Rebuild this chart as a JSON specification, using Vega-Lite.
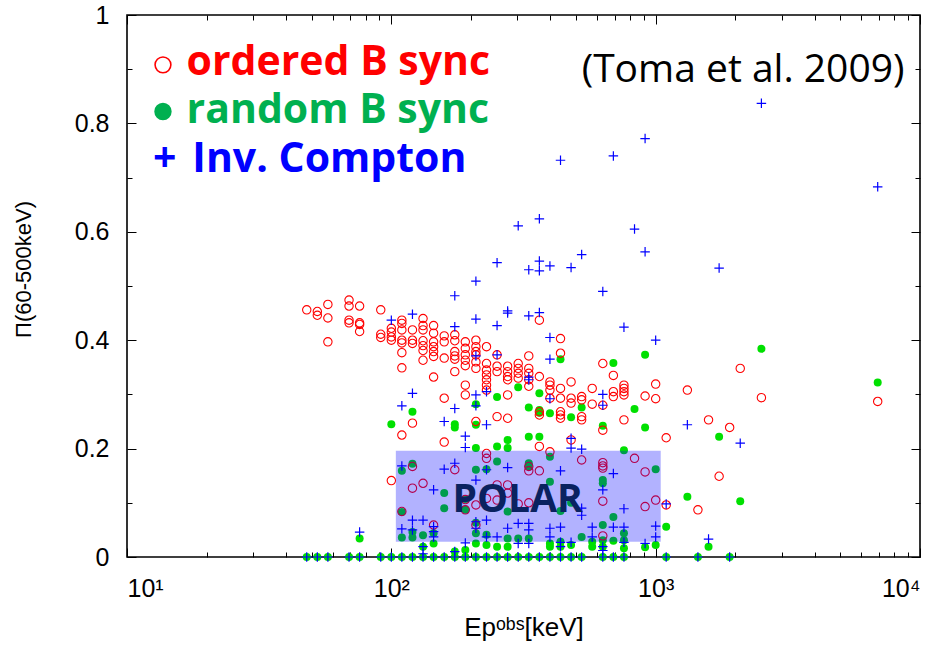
{
 "$schema": "https://vega.github.io/schema/vega-lite/v6.json",
 "width": 793, "height": 542,
 "autosize": {"type": "none"},
 "padding": {"left": 127, "top": 15, "right": 22, "bottom": 91},
 "background": "white",
 "config": {
  "view": {"stroke": "#000", "strokeWidth": 1.6}
 },
 "datasets": {
  "ordered": [
   {"E":47.86,"P":0.456},
   {"E":52.48,"P":0.453},{"E":52.48,"P":0.446},
   {"E":57.54,"P":0.466},{"E":57.54,"P":0.441},{"E":57.54,"P":0.397},
   {"E":69.18,"P":0.474},{"E":69.18,"P":0.463},{"E":69.18,"P":0.437},{"E":69.18,"P":0.432},
   {"E":75.86,"P":0.463},{"E":75.86,"P":0.432},{"E":75.86,"P":0.429},{"E":75.86,"P":0.416},
   {"E":91.2,"P":0.456},{"E":91.2,"P":0.411},{"E":91.2,"P":0.405},
   {"E":100,"P":0.422},{"E":100,"P":0.415},{"E":100,"P":0.406},{"E":100,"P":0.4},{"E":100,"P":0.141},
   {"E":109.6,"P":0.437},{"E":109.6,"P":0.431},{"E":109.6,"P":0.419},{"E":109.6,"P":0.4},{"E":109.6,"P":0.395},{"E":109.6,"P":0.377},{"E":109.6,"P":0.349},{"E":109.6,"P":0.225},{"E":109.6,"P":0.084},
   {"E":120.2,"P":0.419},{"E":120.2,"P":0.4},{"E":120.2,"P":0.394},{"E":120.2,"P":0.247},{"E":120.2,"P":0.167},{"E":120.2,"P":0.127},
   {"E":131.8,"P":0.44},{"E":131.8,"P":0.427},{"E":131.8,"P":0.419},{"E":131.8,"P":0.399},{"E":131.8,"P":0.39},{"E":131.8,"P":0.381},{"E":131.8,"P":0.363},{"E":131.8,"P":0.136},
   {"E":144.5,"P":0.427},{"E":144.5,"P":0.413},{"E":144.5,"P":0.397},{"E":144.5,"P":0.388},{"E":144.5,"P":0.379},{"E":144.5,"P":0.37},{"E":144.5,"P":0.332},{"E":144.5,"P":0.059},
   {"E":158.5,"P":0.408},{"E":158.5,"P":0.397},{"E":158.5,"P":0.367},{"E":158.5,"P":0.293},{"E":158.5,"P":0.212},
   {"E":173.8,"P":0.41},{"E":173.8,"P":0.399},{"E":173.8,"P":0.379},{"E":173.8,"P":0.371},{"E":173.8,"P":0.365},{"E":173.8,"P":0.342},{"E":173.8,"P":0.161},
   {"E":190.5,"P":0.397},{"E":190.5,"P":0.385},{"E":190.5,"P":0.373},{"E":190.5,"P":0.363},{"E":190.5,"P":0.353},{"E":190.5,"P":0.317},{"E":190.5,"P":0.299},{"E":190.5,"P":0.106},{"E":190.5,"P":0.087},
   {"E":208.9,"P":0.4},{"E":208.9,"P":0.388},{"E":208.9,"P":0.379},{"E":208.9,"P":0.373},{"E":208.9,"P":0.36},{"E":208.9,"P":0.348},{"E":208.9,"P":0.25},{"E":208.9,"P":0.096},{"E":208.9,"P":0.059},
   {"E":229.1,"P":0.388},{"E":229.1,"P":0.357},{"E":229.1,"P":0.345},{"E":229.1,"P":0.336},{"E":229.1,"P":0.327},{"E":229.1,"P":0.317},{"E":229.1,"P":0.308},{"E":229.1,"P":0.191},{"E":229.1,"P":0.182},{"E":229.1,"P":0.108},
   {"E":251.2,"P":0.373},{"E":251.2,"P":0.352},{"E":251.2,"P":0.342},{"E":251.2,"P":0.259},{"E":251.2,"P":0.133},{"E":251.2,"P":0.105},
   {"E":275.4,"P":0.352},{"E":275.4,"P":0.342},{"E":275.4,"P":0.333},{"E":275.4,"P":0.327},{"E":275.4,"P":0.299},{"E":275.4,"P":0.256},{"E":275.4,"P":0.133},{"E":275.4,"P":0.118},
   {"E":302,"P":0.357},{"E":302,"P":0.348},{"E":302,"P":0.339},{"E":302,"P":0.33},{"E":302,"P":0.098},
   {"E":331.1,"P":0.371},{"E":331.1,"P":0.348},{"E":331.1,"P":0.339},{"E":331.1,"P":0.327},{"E":331.1,"P":0.315},{"E":331.1,"P":0.167},{"E":331.1,"P":0.159},{"E":331.1,"P":0.1},
   {"E":363.1,"P":0.437},{"E":363.1,"P":0.333},{"E":363.1,"P":0.268},{"E":363.1,"P":0.262},{"E":363.1,"P":0.204},{"E":363.1,"P":0.159},
   {"E":398.1,"P":0.323},{"E":398.1,"P":0.317},{"E":398.1,"P":0.308},{"E":398.1,"P":0.293},{"E":398.1,"P":0.194},
   {"E":436.5,"P":0.403},{"E":436.5,"P":0.376},{"E":436.5,"P":0.311},{"E":436.5,"P":0.293},{"E":436.5,"P":0.268},{"E":436.5,"P":0.262},{"E":436.5,"P":0.256},
   {"E":478.6,"P":0.323},{"E":478.6,"P":0.293},{"E":478.6,"P":0.284},{"E":478.6,"P":0.216},
   {"E":524.8,"P":0.296},{"E":524.8,"P":0.29},{"E":524.8,"P":0.259},{"E":524.8,"P":0.253},{"E":524.8,"P":0.179},
   {"E":575.4,"P":0.311},{"E":575.4,"P":0.282},
   {"E":631,"P":0.357},{"E":631,"P":0.28},{"E":631,"P":0.234},{"E":631,"P":0.174},{"E":631,"P":0.168},{"E":631,"P":0.164},{"E":631,"P":0.103},{"E":631,"P":0.039},
   {"E":691.8,"P":0.335},{"E":691.8,"P":0.305},{"E":691.8,"P":0.296},
   {"E":758.6,"P":0.317},{"E":758.6,"P":0.311},{"E":758.6,"P":0.305},{"E":758.6,"P":0.299},{"E":758.6,"P":0.253},
   {"E":831.8,"P":0.182},
   {"E":912,"P":0.297},{"E":912,"P":0.157},{"E":912,"P":0.093},
   {"E":1000,"P":0.319},{"E":1000,"P":0.292},{"E":1000,"P":0.105},
   {"E":1096,"P":0.22},{"E":1096,"P":0.096},
   {"E":1318,"P":0.308},
   {"E":1445,"P":0.087},
   {"E":1585,"P":0.253},
   {"E":1738,"P":0.149},
   {"E":1905,"P":0.239},
   {"E":2089,"P":0.348},
   {"E":2512,"P":0.294},
   {"E":6918,"P":0.287}
  ],
  "random": [
   {"E":47.86,"P":0},{"E":52.48,"P":0},{"E":57.54,"P":0},{"E":69.18,"P":0},{"E":75.86,"P":0},{"E":91.2,"P":0},
   {"E":100,"P":0},{"E":109.6,"P":0},{"E":120.2,"P":0},{"E":131.8,"P":0},{"E":144.5,"P":0},{"E":158.5,"P":0},
   {"E":173.8,"P":0},{"E":190.5,"P":0},{"E":208.9,"P":0},{"E":229.1,"P":0},{"E":251.2,"P":0},{"E":275.4,"P":0},
   {"E":302,"P":0},{"E":331.1,"P":0},{"E":363.1,"P":0},{"E":398.1,"P":0},{"E":436.5,"P":0},{"E":478.6,"P":0},
   {"E":524.8,"P":0},{"E":631,"P":0},{"E":691.8,"P":0},{"E":758.6,"P":0},{"E":1096,"P":0},{"E":1445,"P":0},{"E":1905,"P":0},
   {"E":75.86,"P":0.034},
   {"E":100,"P":0.245},
   {"E":109.6,"P":0.159},{"E":109.6,"P":0.083},{"E":109.6,"P":0.036},
   {"E":120.2,"P":0.268},{"E":120.2,"P":0.172},{"E":120.2,"P":0.046},{"E":120.2,"P":0.036},
   {"E":131.8,"P":0.04},{"E":131.8,"P":0.019},
   {"E":144.5,"P":0.044},{"E":144.5,"P":0.025},
   {"E":158.5,"P":0.118},{"E":158.5,"P":0.09},
   {"E":173.8,"P":0.245},{"E":173.8,"P":0.239},{"E":173.8,"P":0.01},
   {"E":190.5,"P":0.107},{"E":190.5,"P":0.087},{"E":190.5,"P":0.013},
   {"E":208.9,"P":0.282},{"E":208.9,"P":0.244},{"E":208.9,"P":0.201},{"E":208.9,"P":0.161},{"E":208.9,"P":0.063},{"E":208.9,"P":0.044},{"E":208.9,"P":0.025},
   {"E":229.1,"P":0.162},{"E":229.1,"P":0.041},{"E":229.1,"P":0.022},
   {"E":251.2,"P":0.295},{"E":251.2,"P":0.204},{"E":251.2,"P":0.176},{"E":251.2,"P":0.019},
   {"E":275.4,"P":0.216},{"E":275.4,"P":0.201},{"E":275.4,"P":0.084},{"E":275.4,"P":0.034},{"E":275.4,"P":0.019},
   {"E":302,"P":0.313},{"E":302,"P":0.034},
   {"E":331.1,"P":0.276},{"E":331.1,"P":0.222},{"E":331.1,"P":0.173},{"E":331.1,"P":0.167},{"E":331.1,"P":0.034},
   {"E":363.1,"P":0.302},{"E":363.1,"P":0.271},{"E":363.1,"P":0.266},{"E":363.1,"P":0.222},
   {"E":398.1,"P":0.265},{"E":398.1,"P":0.185},{"E":398.1,"P":0.139},{"E":398.1,"P":0.025},{"E":398.1,"P":0.019},
   {"E":436.5,"P":0.365},{"E":436.5,"P":0.085},{"E":436.5,"P":0.028},{"E":436.5,"P":0.019},
   {"E":478.6,"P":0.258},{"E":478.6,"P":0.1},{"E":478.6,"P":0.022},
   {"E":524.8,"P":0.276},{"E":524.8,"P":0.037},
   {"E":575.4,"P":0.028},{"E":575.4,"P":0.019},
   {"E":631,"P":0.242},{"E":631,"P":0.142},{"E":631,"P":0.136},{"E":631,"P":0.059},{"E":631,"P":0.031},{"E":631,"P":0.019},
   {"E":691.8,"P":0.358},{"E":691.8,"P":0.074},{"E":691.8,"P":0.03},
   {"E":758.6,"P":0.197},{"E":758.6,"P":0.044},{"E":758.6,"P":0.031},{"E":758.6,"P":0.016},
   {"E":831.8,"P":0.273},
   {"E":912,"P":0.373},{"E":912,"P":0.239},{"E":912,"P":0.018},
   {"E":1000,"P":0.162},{"E":1000,"P":0.022},
   {"E":1096,"P":0.056},
   {"E":1318,"P":0.111},
   {"E":1585,"P":0.019},
   {"E":1738,"P":0.222},
   {"E":2089,"P":0.103},
   {"E":2512,"P":0.384},
   {"E":6918,"P":0.322}
  ],
  "ic": [
   {"E":47.86,"P":0},{"E":52.48,"P":0},{"E":57.54,"P":0},{"E":69.18,"P":0},{"E":75.86,"P":0},{"E":91.2,"P":0},
   {"E":100,"P":0},{"E":109.6,"P":0},{"E":120.2,"P":0},{"E":131.8,"P":0},{"E":144.5,"P":0},{"E":158.5,"P":0},
   {"E":173.8,"P":0},{"E":190.5,"P":0},{"E":208.9,"P":0},{"E":229.1,"P":0},{"E":251.2,"P":0},{"E":275.4,"P":0},
   {"E":302,"P":0},{"E":331.1,"P":0},{"E":363.1,"P":0},{"E":398.1,"P":0},{"E":436.5,"P":0},{"E":478.6,"P":0},
   {"E":524.8,"P":0},{"E":631,"P":0},{"E":691.8,"P":0},{"E":758.6,"P":0},{"E":1096,"P":0},{"E":1445,"P":0},{"E":1905,"P":0},
   {"E":75.86,"P":0.046},
   {"E":100,"P":0.437},
   {"E":109.6,"P":0.279},{"E":109.6,"P":0.168},{"E":109.6,"P":0.052},
   {"E":120.2,"P":0.448},{"E":120.2,"P":0.302},{"E":120.2,"P":0.068},{"E":120.2,"P":0.05},
   {"E":131.8,"P":0.068},{"E":131.8,"P":0.019},{"E":131.8,"P":0.006},
   {"E":144.5,"P":0.124},{"E":144.5,"P":0.056},{"E":144.5,"P":0.047},{"E":144.5,"P":0.037},
   {"E":158.5,"P":0.25},{"E":158.5,"P":0.162},
   {"E":173.8,"P":0.482},{"E":173.8,"P":0.425},{"E":173.8,"P":0.274},{"E":173.8,"P":0.173},{"E":173.8,"P":0.01},
   {"E":190.5,"P":0.223},{"E":190.5,"P":0.202},{"E":190.5,"P":0.026},
   {"E":208.9,"P":0.509},{"E":208.9,"P":0.439},{"E":208.9,"P":0.371},{"E":208.9,"P":0.299},{"E":208.9,"P":0.279},{"E":208.9,"P":0.142},{"E":208.9,"P":0.065},{"E":208.9,"P":0.053},
   {"E":229.1,"P":0.305},{"E":229.1,"P":0.244},{"E":229.1,"P":0.161},{"E":229.1,"P":0.068},{"E":229.1,"P":0.037},
   {"E":251.2,"P":0.543},{"E":251.2,"P":0.427},{"E":251.2,"P":0.373},{"E":251.2,"P":0.037},
   {"E":275.4,"P":0.454},{"E":275.4,"P":0.45},{"E":275.4,"P":0.165},{"E":275.4,"P":0.053},
   {"E":302,"P":0.611},{"E":302,"P":0.062},{"E":302,"P":0.025},
   {"E":331.1,"P":0.53},{"E":331.1,"P":0.445},{"E":331.1,"P":0.332},{"E":331.1,"P":0.327},{"E":331.1,"P":0.062},{"E":331.1,"P":0.05},{"E":331.1,"P":0.025},
   {"E":363.1,"P":0.624},{"E":363.1,"P":0.546},{"E":363.1,"P":0.528},{"E":363.1,"P":0.451},
   {"E":398.1,"P":0.537},{"E":398.1,"P":0.405},{"E":398.1,"P":0.365},{"E":398.1,"P":0.292},{"E":398.1,"P":0.053},{"E":398.1,"P":0.037},
   {"E":436.5,"P":0.732},{"E":436.5,"P":0.159},{"E":436.5,"P":0.055},{"E":436.5,"P":0.027},{"E":436.5,"P":0.019},
   {"E":478.6,"P":0.534},{"E":478.6,"P":0.219},{"E":478.6,"P":0.201},{"E":478.6,"P":0.027},
   {"E":524.8,"P":0.558},{"E":524.8,"P":0.199},{"E":524.8,"P":0.09},{"E":524.8,"P":0.077},
   {"E":575.4,"P":0.055},{"E":575.4,"P":0.037},
   {"E":631,"P":0.49},{"E":631,"P":0.3},{"E":631,"P":0.28},{"E":631,"P":0.124},{"E":631,"P":0.019},{"E":631,"P":0.012},
   {"E":691.8,"P":0.74},{"E":691.8,"P":0.154},{"E":691.8,"P":0.055},
   {"E":758.6,"P":0.424},{"E":758.6,"P":0.089},{"E":758.6,"P":0.055},{"E":758.6,"P":0.027},
   {"E":831.8,"P":0.605},
   {"E":912,"P":0.772},{"E":912,"P":0.563},{"E":912,"P":0.025},
   {"E":1000,"P":0.4},{"E":1000,"P":0.057},{"E":1000,"P":0.037},
   {"E":1096,"P":0.098},
   {"E":1318,"P":0.244},
   {"E":1585,"P":0.033},
   {"E":1738,"P":0.533},
   {"E":2089,"P":0.21},
   {"E":2512,"P":0.837},
   {"E":6918,"P":0.683}
  ],
  "box": [{"E1":104,"E2":1045,"P1":0.028,"P2":0.196}],
  "polar": [{"E":300.6,"P":0.0836,"label":"POLAR"}],
  "legsym": [{"E":13.68,"P":0.908,"kind":"ordered"},{"E":13.68,"P":0.822,"kind":"random"}],
  "legtext": [
   {"E":16.8,"P":0.889,"label":"ordered B sync"},
   {"E":16.8,"P":0.8,"label":"random B sync"},
   {"E":12.54,"P":0.711,"label":"+"},
   {"E":17.67,"P":0.711,"label":"Inv. Compton"}
  ],
  "ref": [{"E":8738,"P":0.876,"label":"(Toma et al. 2009)"}],
  "host": [{"E":100,"P":0.5}]
 },
 "resolve": {"axis": {"x": "independent", "y": "independent"}},
 "layer": [
  {"data": {"name": "random"},
   "mark": {"type": "point", "shape": "circle", "filled": true, "color": "#00e000", "size": 64, "opacity": 1},
   "encoding": {
    "x": {"field": "E", "type": "quantitative", "scale": {"type": "log", "domain": [10, 10000], "nice": false}, "axis": null},
    "y": {"field": "P", "type": "quantitative", "scale": {"domain": [0, 1], "nice": false, "zero": false}, "axis": null}}},
  {"data": {"name": "ordered"},
   "mark": {"type": "point", "shape": "circle", "filled": false, "color": "#ff0000", "size": 70, "strokeWidth": 1.1, "opacity": 1},
   "encoding": {
    "x": {"field": "E", "type": "quantitative", "scale": {"type": "log", "domain": [10, 10000], "nice": false}, "axis": null},
    "y": {"field": "P", "type": "quantitative", "scale": {"domain": [0, 1], "nice": false, "zero": false}, "axis": null}}},
  {"data": {"name": "ic"},
   "mark": {"type": "point", "shape": "M-1,0H1M0,-1V1", "filled": false, "color": "#0000ff", "size": 90, "strokeWidth": 1.2, "opacity": 1},
   "encoding": {
    "x": {"field": "E", "type": "quantitative", "scale": {"type": "log", "domain": [10, 10000], "nice": false}, "axis": null},
    "y": {"field": "P", "type": "quantitative", "scale": {"domain": [0, 1], "nice": false, "zero": false}, "axis": null}}},
  {"data": {"name": "box"},
   "mark": {"type": "rect", "color": "#0000ff", "opacity": 0.3},
   "encoding": {
    "x": {"field": "E1", "type": "quantitative", "scale": {"type": "log", "domain": [10, 10000], "nice": false}, "axis": null},
    "x2": {"field": "E2"},
    "y": {"field": "P1", "type": "quantitative", "scale": {"domain": [0, 1], "nice": false, "zero": false}, "axis": null},
    "y2": {"field": "P2"}}},
  {"data": {"name": "polar"},
   "mark": {"type": "text", "font": "Open Sans", "fontWeight": "bold", "fontSize": 39, "color": "#0a2260", "align": "center", "baseline": "alphabetic"},
   "encoding": {
    "x": {"field": "E", "type": "quantitative", "scale": {"type": "log", "domain": [10, 10000], "nice": false}, "axis": null},
    "y": {"field": "P", "type": "quantitative", "scale": {"domain": [0, 1], "nice": false, "zero": false}, "axis": null},
    "text": {"field": "label"}}},
  {"data": {"name": "legsym"},
   "mark": {"type": "point", "shape": "circle", "size": 250, "strokeWidth": 1.6, "opacity": 1},
   "encoding": {
    "x": {"field": "E", "type": "quantitative", "scale": {"type": "log", "domain": [10, 10000], "nice": false}, "axis": null},
    "y": {"field": "P", "type": "quantitative", "scale": {"domain": [0, 1], "nice": false, "zero": false}, "axis": null},
    "stroke": {"field": "kind", "type": "nominal", "scale": {"domain": ["ordered", "random"], "range": ["#ff0000", "#00b050"]}, "legend": null},
    "fill": {"field": "kind", "type": "nominal", "scale": {"domain": ["ordered", "random"], "range": ["#ffffff", "#00b050"]}, "legend": null}}},
  {"data": {"name": "legtext"},
   "mark": {"type": "text", "font": "Open Sans", "fontWeight": "bold", "fontSize": 41, "align": "left", "baseline": "alphabetic"},
   "encoding": {
    "x": {"field": "E", "type": "quantitative", "scale": {"type": "log", "domain": [10, 10000], "nice": false}, "axis": null},
    "y": {"field": "P", "type": "quantitative", "scale": {"domain": [0, 1], "nice": false, "zero": false}, "axis": null},
    "text": {"field": "label"},
    "color": {"field": "label", "type": "nominal", "scale": {"domain": ["ordered B sync", "random B sync", "+", "Inv. Compton"], "range": ["#ff0000", "#00b050", "#0000ff", "#0000ff"]}, "legend": null}}},
  {"data": {"name": "ref"},
   "mark": {"type": "text", "font": "Open Sans", "fontSize": 39, "color": "#000", "align": "right", "baseline": "alphabetic"},
   "encoding": {
    "x": {"field": "E", "type": "quantitative", "scale": {"type": "log", "domain": [10, 10000], "nice": false}, "axis": null},
    "y": {"field": "P", "type": "quantitative", "scale": {"domain": [0, 1], "nice": false, "zero": false}, "axis": null},
    "text": {"field": "label"}}},
  {"data": {"name": "host"},
   "mark": {"type": "point", "opacity": 0},
   "encoding": {
    "x": {"field": "E", "type": "quantitative", "scale": {"type": "log", "domain": [10, 10000], "nice": false},
          "axis": {"orient": "bottom", "values": [10,20,30,40,50,60,70,80,90,100,200,300,400,500,600,700,800,900,1000,2000,3000,4000,5000,6000,7000,8000,9000,10000],
                   "tickSize": {"condition": {"test": "indexof([10,100,1000,10000], datum.value) >= 0", "value": -9}, "value": -5},
                   "tickColor": "#000", "tickWidth": 1, "domain": false, "grid": false,
                   "labelPadding": 28, "labelFont": "Liberation Sans", "labelFontSize": 25, "labelColor": "#000",
                   "labelExpr": "datum.value == 10 ? '10¹' : datum.value == 100 ? '10²' : datum.value == 1000 ? '10³' : datum.value == 10000 ? '10⁴' : ''",
                   "title": "Epᵒᵇˢ[keV]", "titleFont": "Liberation Sans", "titleFontSize": 26, "titleFontWeight": "normal", "titleColor": "#000",
                   "titleY": 57, "titleBaseline": "top"}},
    "y": {"field": "P", "type": "quantitative", "scale": {"domain": [0, 1], "nice": false, "zero": false},
          "axis": {"orient": "left", "values": [0, 0.1, 0.2, 0.3, 0.4, 0.5, 0.6, 0.7, 0.8, 0.9, 1],
                   "tickSize": {"condition": {"test": "indexof([0,0.2,0.4,0.6,0.8,1], datum.value) >= 0", "value": -9}, "value": -5},
                   "tickColor": "#000", "tickWidth": 1, "domain": false, "grid": false,
                   "labelPadding": 27, "labelFont": "Liberation Sans", "labelFontSize": 25, "labelColor": "#000",
                   "labelExpr": "datum.value == 0 ? '0' : datum.value == 0.2 ? '0.2' : datum.value == 0.4 ? '0.4' : datum.value == 0.6 ? '0.6' : datum.value == 0.8 ? '0.8' : datum.value == 1 ? '1' : ''",
                   "title": "Π(60-500keV)", "titleFont": "Liberation Sans", "titleFontSize": 22, "titleFontWeight": "normal", "titleColor": "#000",
                   "titleX": -92, "titleY": 254, "titleAngle": 270, "titleBaseline": "bottom", "titleAlign": "center"}}}},
  {"data": {"name": "host"},
   "mark": {"type": "point", "opacity": 0},
   "encoding": {
    "x": {"field": "E", "type": "quantitative", "scale": {"type": "log", "domain": [10, 10000], "nice": false},
          "axis": {"orient": "top", "values": [10,20,30,40,50,60,70,80,90,100,200,300,400,500,600,700,800,900,1000,2000,3000,4000,5000,6000,7000,8000,9000,10000],
                   "labels": false, "domain": false, "grid": false,
                   "tickSize": {"condition": {"test": "indexof([10,100,1000,10000], datum.value) >= 0", "value": -9}, "value": -5},
                   "tickColor": "#000", "tickWidth": 1, "title": null}},
    "y": {"field": "P", "type": "quantitative", "scale": {"domain": [0, 1], "nice": false, "zero": false},
          "axis": {"orient": "right", "values": [0, 0.1, 0.2, 0.3, 0.4, 0.5, 0.6, 0.7, 0.8, 0.9, 1],
                   "labels": false, "domain": false, "grid": false,
                   "tickSize": {"condition": {"test": "indexof([0,0.2,0.4,0.6,0.8,1], datum.value) >= 0", "value": -9}, "value": -5},
                   "tickColor": "#000", "tickWidth": 1, "title": null}}}}
 ]
}
